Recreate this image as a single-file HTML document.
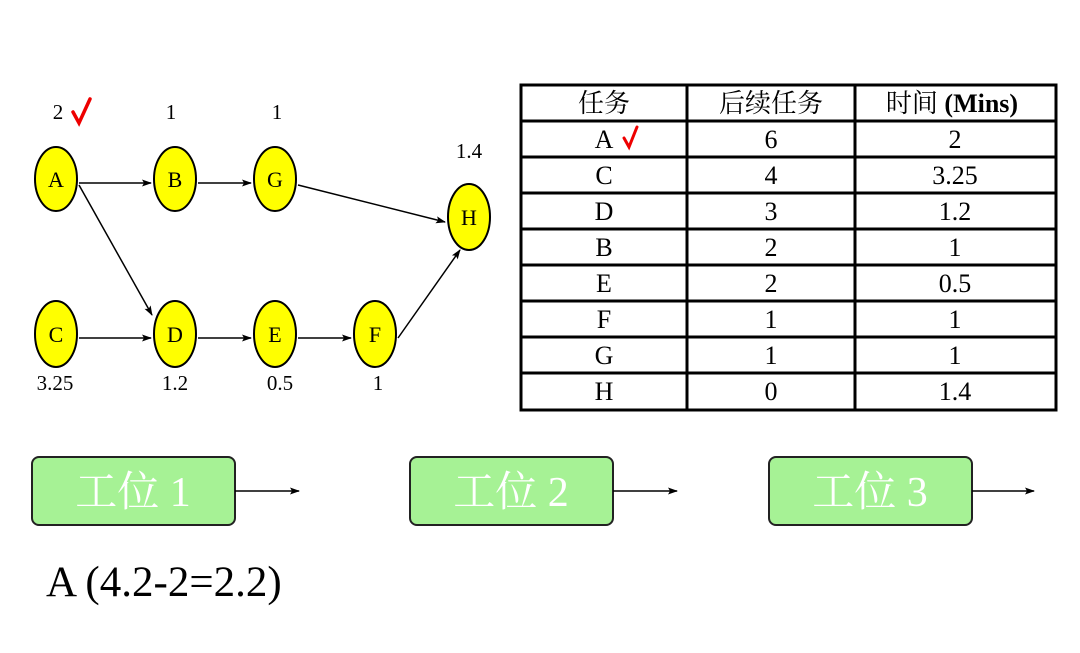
<!DOCTYPE html>
<html><head><meta charset="utf-8"><style>
html,body{margin:0;padding:0;background:#fff;}
svg{display:block;}
text{font-family:"Liberation Serif","Noto Serif CJK SC",serif;}
</style></head><body>
<svg width="1080" height="653" viewBox="0 0 1080 653" xmlns="http://www.w3.org/2000/svg">
<defs>
<marker id="ar" markerWidth="10" markerHeight="8" refX="9" refY="4" orient="auto" markerUnits="userSpaceOnUse">
<path d="M0,0.5 L10,4 L0,7.5 L2,4 Z" fill="#000"/>
</marker>
</defs>
<g stroke="#000" stroke-width="1.5" fill="none" marker-end="url(#ar)">
<line x1="79" y1="183" x2="151" y2="183"/>
<line x1="198" y1="183" x2="251" y2="183"/>
<line x1="298" y1="185" x2="445" y2="222"/>
<line x1="79" y1="185" x2="152" y2="315"/>
<line x1="79" y1="338" x2="151" y2="338"/>
<line x1="198" y1="338" x2="251" y2="338"/>
<line x1="298" y1="338" x2="351" y2="338"/>
<line x1="398" y1="338" x2="460" y2="250"/>
</g>
<g fill="#ffff00" stroke="#000" stroke-width="2">
<ellipse cx="56" cy="179" rx="21" ry="32"/>
<ellipse cx="175" cy="179" rx="21" ry="32"/>
<ellipse cx="275" cy="179" rx="21" ry="32"/>
<ellipse cx="469" cy="217" rx="21" ry="33"/>
<ellipse cx="56" cy="334" rx="21" ry="33"/>
<ellipse cx="175" cy="334" rx="21" ry="33"/>
<ellipse cx="275" cy="334" rx="21" ry="33"/>
<ellipse cx="375" cy="334" rx="21" ry="33"/>
</g>
<g font-size="22" text-anchor="middle" fill="#000">
<text x="56" y="187">A</text><text x="175" y="187">B</text><text x="275" y="187">G</text>
<text x="469" y="225">H</text><text x="56" y="342">C</text><text x="175" y="342">D</text>
<text x="275" y="342">E</text><text x="375" y="342">F</text>
</g>
<g font-size="21" text-anchor="middle" fill="#000">
<text x="58" y="119">2</text><text x="171" y="119">1</text><text x="277" y="119">1</text>
<text x="469" y="158">1.4</text>
<text x="55" y="390">3.25</text><text x="175" y="390">1.2</text><text x="280" y="390">0.5</text><text x="378" y="390">1</text>
</g>
<path d="M73,112 L79,123 L90,99" fill="none" stroke="#ee0000" stroke-width="3.5" stroke-linecap="round"/>
<g stroke="#000" stroke-width="3" fill="none">
<rect x="521" y="85" width="535" height="325"/>
<line x1="687" y1="85" x2="687" y2="410"/>
<line x1="855" y1="85" x2="855" y2="410"/>
<line x1="521" y1="121" x2="1056" y2="121"/>
<line x1="521" y1="157" x2="1056" y2="157"/>
<line x1="521" y1="193" x2="1056" y2="193"/>
<line x1="521" y1="229" x2="1056" y2="229"/>
<line x1="521" y1="265" x2="1056" y2="265"/>
<line x1="521" y1="301" x2="1056" y2="301"/>
<line x1="521" y1="337" x2="1056" y2="337"/>
<line x1="521" y1="373" x2="1056" y2="373"/>
</g>
<g font-size="26" text-anchor="middle" fill="#000">
<text x="604" y="112">任务</text><text x="771" y="112">后续任务</text>
<text x="952" y="112">时间 <tspan font-weight="bold">(Mins)</tspan></text>
<text x="604" y="148">A</text><text x="771" y="148">6</text><text x="955" y="148">2</text>
<text x="604" y="184">C</text><text x="771" y="184">4</text><text x="955" y="184">3.25</text>
<text x="604" y="220">D</text><text x="771" y="220">3</text><text x="955" y="220">1.2</text>
<text x="604" y="256">B</text><text x="771" y="256">2</text><text x="955" y="256">1</text>
<text x="604" y="292">E</text><text x="771" y="292">2</text><text x="955" y="292">0.5</text>
<text x="604" y="328">F</text><text x="771" y="328">1</text><text x="955" y="328">1</text>
<text x="604" y="364">G</text><text x="771" y="364">1</text><text x="955" y="364">1</text>
<text x="604" y="400">H</text><text x="771" y="400">0</text><text x="955" y="400">1.4</text>
</g>
<path d="M624,138 L629,147 L637,127" fill="none" stroke="#ee0000" stroke-width="3" stroke-linecap="round"/>
<g fill="#a6f295" stroke="#222" stroke-width="2">
<rect x="32" y="457" width="203" height="68" rx="7"/>
<rect x="410" y="457" width="203" height="68" rx="7"/>
<rect x="769" y="457" width="203" height="68" rx="7"/>
</g>
<g font-size="42" text-anchor="middle" fill="#ffffff">
<text x="133" y="506">工位 1</text>
<text x="511" y="506">工位 2</text>
<text x="870" y="506">工位 3</text>
</g>
<g stroke="#000" stroke-width="1.5" marker-end="url(#ar)">
<line x1="235" y1="491" x2="299" y2="491"/>
<line x1="613" y1="491" x2="677" y2="491"/>
<line x1="972" y1="491" x2="1034" y2="491"/>
</g>
<text x="46" y="596" font-size="43" fill="#000">A (4.2-2=2.2)</text>
</svg>
</body></html>
